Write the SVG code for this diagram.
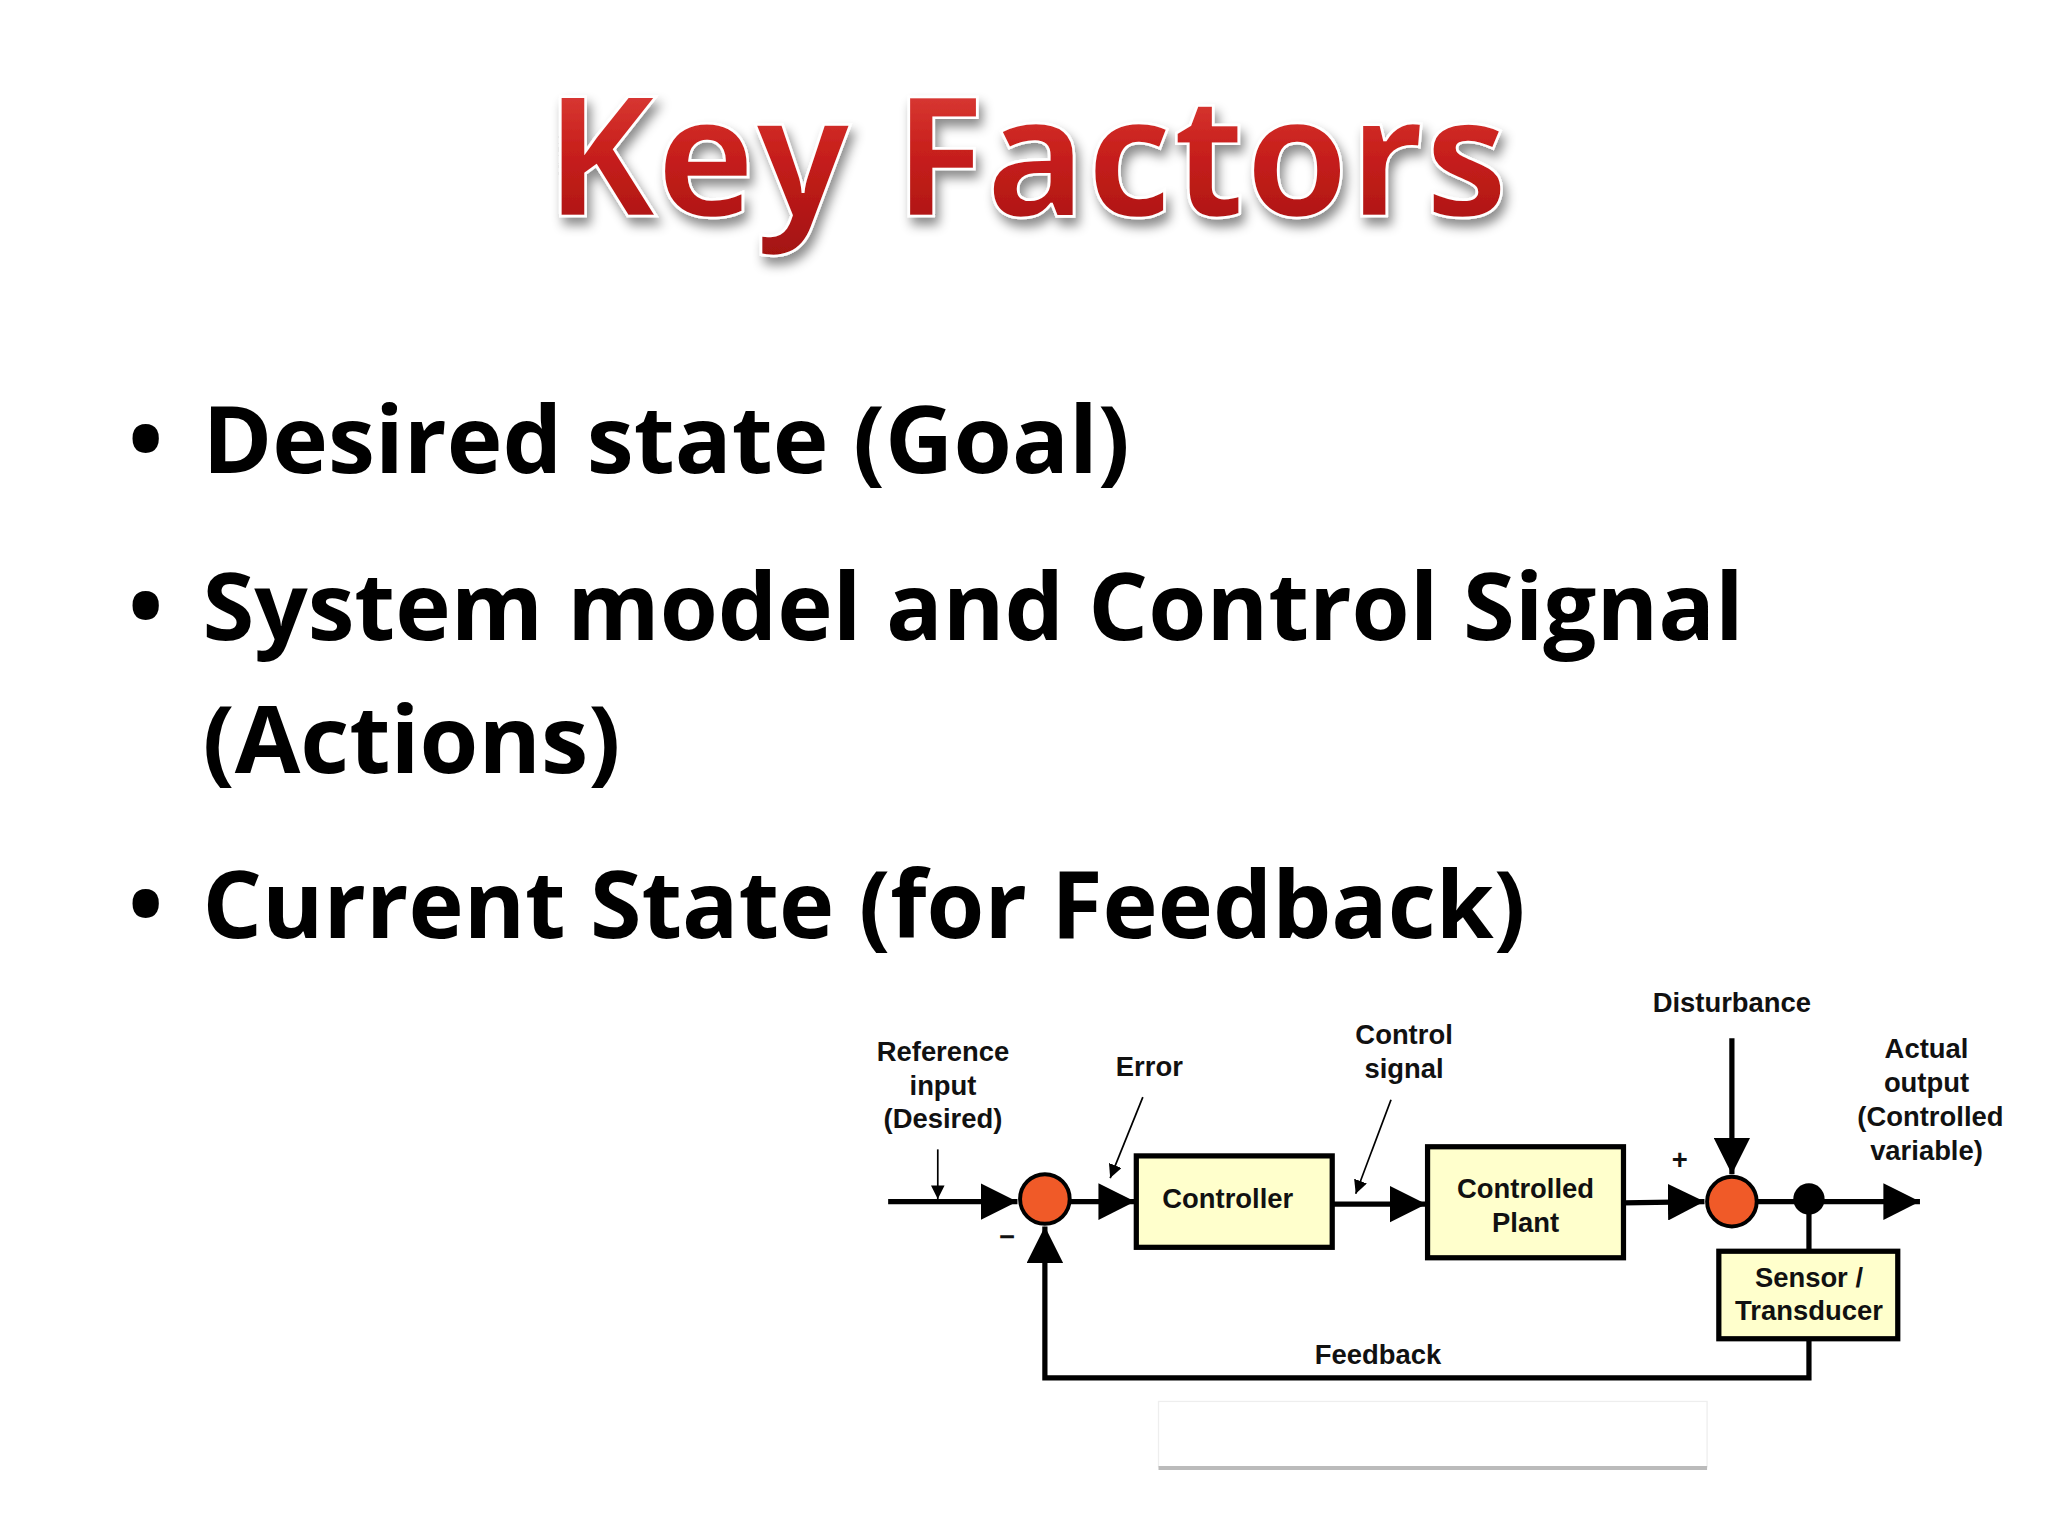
<svg xmlns="http://www.w3.org/2000/svg" width="2048" height="1536" viewBox="0 0 2048 1536">
<defs>
<linearGradient id="rg" x1="0" y1="0" x2="0" y2="1"><stop offset="0" stop-color="#e8504a"/><stop offset="0.5" stop-color="#c8201c"/><stop offset="1" stop-color="#a01010"/></linearGradient>
<filter id="sh" x="-5%" y="-10%" width="110%" height="130%"><feDropShadow dx="3" dy="6" stdDeviation="4" flood-color="#000" flood-opacity="0.45"/></filter>
<marker id="ah" viewBox="0 0 10 10" refX="10" refY="5" markerWidth="7" markerHeight="7" markerUnits="strokeWidth" orient="auto"><path d="M0,0L10,5L0,10z" fill="#000"/></marker>
<marker id="as" viewBox="0 0 10 10" refX="10" refY="5" markerWidth="8" markerHeight="8" markerUnits="strokeWidth" orient="auto"><path d="M0,0L10,5L0,10z" fill="#000"/></marker>
<clipPath id="clip"><rect x="0" y="0" width="1535" height="1176"/></clipPath>
<style>
.b{font-family:"Open Sans","Liberation Sans",sans-serif;font-weight:bold;font-size:72px;fill:#000}
.d{font-family:"Liberation Sans",Arial,sans-serif;font-weight:bold;font-size:21px;fill:#111;text-anchor:middle}
.box{fill:#ffffcc;stroke:#000;stroke-width:4}
.sum{fill:#f05a28;stroke:#000;stroke-width:3}
.w{stroke:#000;stroke-width:4;fill:none}
.t{stroke:#000;stroke-width:1.3;fill:none}
</style>
</defs>
<rect width="2048" height="1536" fill="#fff"/>
<g transform="scale(1.3061)">
<text x="786" y="165" text-anchor="middle" font-family="Open Sans,Liberation Sans,sans-serif" font-weight="bold" font-size="128" fill="url(#rg)" stroke="#fff" stroke-width="2" filter="url(#sh)" textLength="737" lengthAdjust="spacingAndGlyphs">Key Factors</text>
<g id="bullets">
<text class="b" x="98" y="362">•</text><text class="b" x="155" y="362" textLength="710" lengthAdjust="spacingAndGlyphs">Desired state (Goal)</text>
<text class="b" x="98" y="490">•</text><text class="b" x="155" y="490" textLength="1180" lengthAdjust="spacingAndGlyphs">System model and Control Signal</text>
<text class="b" x="155" y="592" textLength="320" lengthAdjust="spacingAndGlyphs">(Actions)</text>
<text class="b" x="98" y="718">•</text><text class="b" x="155" y="718" textLength="1013" lengthAdjust="spacingAndGlyphs">Current State (for Feedback)</text>
</g>
<g id="connectors">
<line class="w" x1="680" y1="920" x2="779" y2="920" marker-end="url(#ah)"/>
<line class="t" x1="718" y1="880" x2="718" y2="918" marker-end="url(#as)"/>
<line class="w" x1="820" y1="920" x2="869" y2="920" marker-end="url(#ah)"/>
<line class="t" x1="875" y1="840" x2="850" y2="902" marker-end="url(#as)"/>
<line class="w" x1="1020" y1="922" x2="1092" y2="922" marker-end="url(#ah)"/>
<line class="t" x1="1065" y1="842" x2="1038" y2="914" marker-end="url(#as)"/>
<line class="w" x1="1243" y1="921" x2="1305" y2="920" marker-end="url(#ah)"/>
<line class="w" x1="1326" y1="795" x2="1326" y2="899" marker-end="url(#ah)"/>
<line class="w" x1="1345" y1="920" x2="1470" y2="920" marker-end="url(#ah)"/>
<line class="w" x1="1385" y1="920" x2="1385" y2="958"/>
<polyline class="w" points="1385,1025 1385,1055 800,1055 800,939" marker-end="url(#ah)"/>
<circle cx="1385" cy="918" r="12" fill="#000"/>
</g>
<g id="sum1"><circle class="sum" cx="800" cy="918" r="19"/></g>
<g id="sum2"><circle class="sum" cx="1326" cy="920" r="19"/></g>
<g id="controller"><rect class="box" x="870" y="885" width="150" height="70"/><text class="d" x="940" y="925">Controller</text></g>
<g id="plant"><rect class="box" x="1093" y="878" width="150" height="85"/><text class="d" x="1168" y="917">Controlled</text><text class="d" x="1168" y="943">Plant</text></g>
<g id="sensor"><rect class="box" x="1316" y="958" width="137" height="67"/><text class="d" x="1385" y="985">Sensor /</text><text class="d" x="1385" y="1011">Transducer</text></g>
<g id="labels">
<text class="d" x="722" y="812">Reference</text><text class="d" x="722" y="838">input</text><text class="d" x="722" y="864">(Desired)</text>
<text class="d" x="880" y="824">Error</text>
<text class="d" x="1075" y="799">Control</text><text class="d" x="1075" y="825">signal</text>
<text class="d" x="1326" y="775">Disturbance</text>
<g clip-path="url(#clip)"><text class="d" x="1475" y="810">Actual</text><text class="d" x="1475" y="836">output</text><text class="d" x="1478" y="862">(Controlled</text><text class="d" x="1475" y="888">variable)</text></g>
<text class="d" x="1286" y="895" font-size="24">+</text>
<text class="d" x="771" y="954" font-size="26">−</text>
<text class="d" x="1055" y="1044">Feedback</text>
</g>
<rect x="887" y="1073" width="420" height="50" fill="#fff" stroke="#eee" stroke-width="1"/>
<line x1="887" y1="1124" x2="1307" y2="1124" stroke="#bbb" stroke-width="3"/>
</g>
</svg>
